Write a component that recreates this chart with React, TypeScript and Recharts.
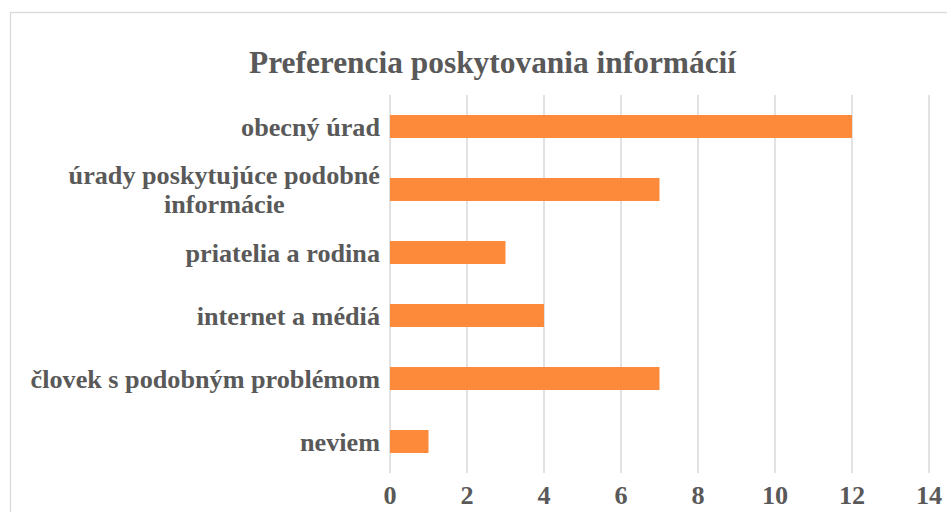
import React from 'react';
import { BarChart, Bar, XAxis, YAxis, CartesianGrid } from 'recharts';

const categories = [
  'obecný úrad',
  'úrady poskytujúce podobné informácie',
  'priatelia a rodina',
  'internet a médiá',
  'človek s podobným problémom',
  'neviem',
];
const counts = [12, 7, 3, 4, 7, 1];
const xTicks = [0, 2, 4, 6, 8, 10, 12, 14];
const title = 'Preferencia poskytovania informácií';

const data = categories.map((name, i) => ({ name, value: counts[i] }));

const FONT = '"Liberation Serif", "Times New Roman", serif';
const TEXT_COLOR = '#595959';
const LABEL_SIZE = 26.2;

let ctx: CanvasRenderingContext2D | null = null;
const measure = (s: string) => {
  if (!ctx) {
    const c = document.createElement('canvas');
    ctx = c.getContext('2d');
  }
  if (!ctx) return s.length * LABEL_SIZE * 0.5;
  ctx.font = `bold ${LABEL_SIZE}px "Liberation Serif"`;
  return ctx.measureText(s).width;
};

const wrap = (s: string, maxW: number) => {
  const words = s.split(' ');
  const lines: string[] = [];
  let cur = '';
  for (const w of words) {
    const t = cur ? cur + ' ' + w : w;
    if (measure(t) > maxW && cur) {
      lines.push(cur);
      cur = w;
    } else cur = t;
  }
  if (cur) lines.push(cur);
  return lines;
};

const CategoryTick = (props: any) => {
  const { x, y, payload } = props;
  const lines = wrap(String(payload.value), 370);
  const widths = lines.map(measure);
  const maxW = Math.max(...widths);
  const lh = 29;
  const cx = x - 8 - maxW / 2;
  const startY = y - ((lines.length - 1) * lh) / 2 + LABEL_SIZE * 0.355;
  return (
    <text
      textAnchor="middle"
      fontFamily={FONT}
      fontWeight="bold"
      fontSize={LABEL_SIZE}
      fill={TEXT_COLOR}
    >
      {lines.map((l, i) => (
        <tspan key={i} x={cx} y={startY + i * lh}>
          {l}
        </tspan>
      ))}
    </text>
  );
};

export default function App() {
  return (
    <div style={{ position: 'absolute', left: 0, top: 0, width: 947, height: 512, overflow: 'hidden', background: '#fff' }}>
      <svg width={947} height={512} style={{ position: 'absolute', left: 0, top: 0 }}>
        <rect x={10.5} y={12.5} width={1000} height={600} fill="#fff" stroke="#d9d9d9" strokeWidth={1.3} />
        <text
          x={492.5}
          y={73}
          textAnchor="middle"
          fontFamily={FONT}
          fontWeight="bold"
          fontSize={31.4}
          fill={TEXT_COLOR}
        >
          {title}
        </text>
      </svg>
      <div style={{ position: 'absolute', left: 0, top: 0 }}>
        <BarChart
          width={947}
          height={512}
          data={data}
          layout="vertical"
          margin={{ top: 95, right: 18, bottom: 0, left: 0 }}
        >
          <CartesianGrid horizontal={false} stroke="#d9d9d9" strokeWidth={1.5} />
          <XAxis
            type="number"
            domain={[0, 14]}
            ticks={xTicks}
            axisLine={false}
            tickLine={false}
            tickSize={0}
            tickMargin={12}
            height={39}
            interval={0}
            tick={{ fontFamily: FONT, fontWeight: 'bold', fontSize: LABEL_SIZE, fill: TEXT_COLOR }}
          />
          <YAxis
            type="category"
            dataKey="name"
            width={390}
            axisLine={false}
            tickLine={false}
            tickSize={0}
            interval={0}
            tick={<CategoryTick />}
          />
          <Bar dataKey="value" fill="#FD8A3A" barSize={23} isAnimationActive={false} />
        </BarChart>
      </div>
    </div>
  );
}
